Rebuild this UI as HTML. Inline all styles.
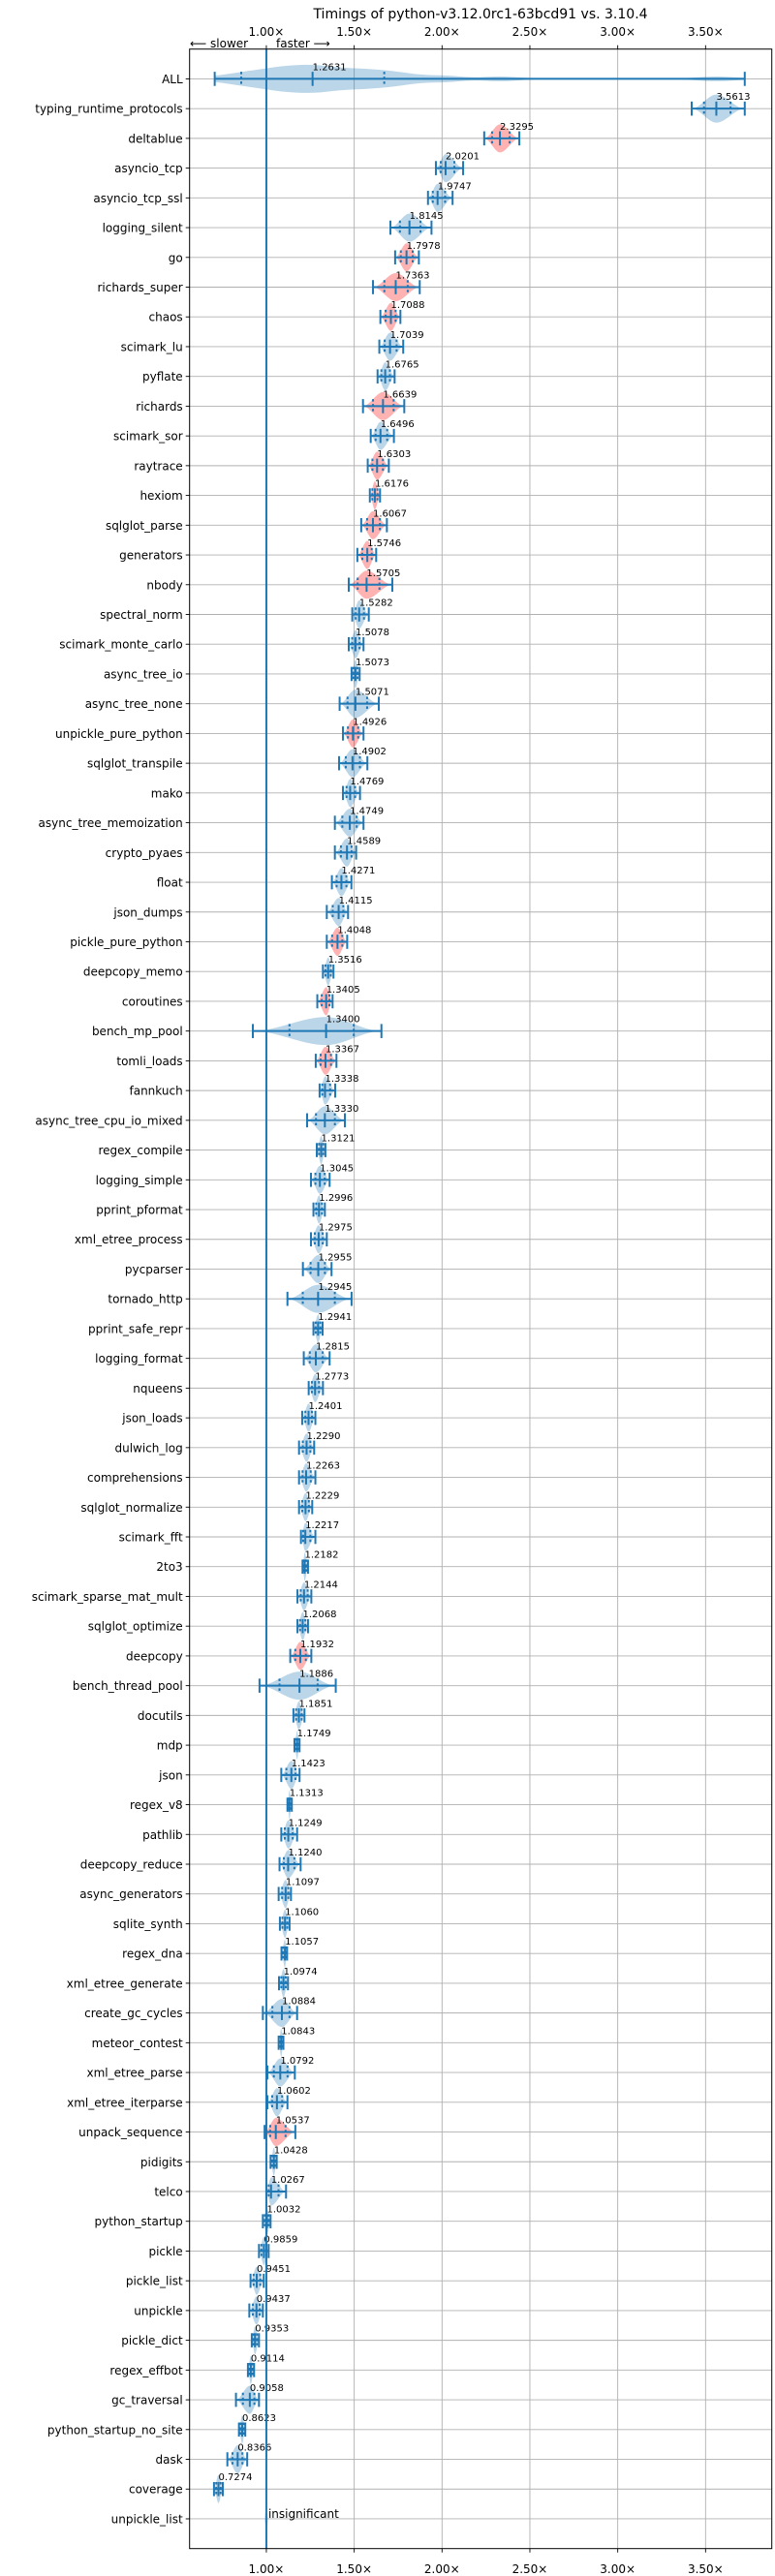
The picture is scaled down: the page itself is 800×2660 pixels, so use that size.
<!DOCTYPE html>
<html><head><meta charset="utf-8"><title>Timings</title>
<style>html,body{margin:0;padding:0;background:#fff}svg{display:block}text{font-family:"DejaVu Sans","Liberation Sans",sans-serif}</style>
</head><body>
<svg id="chart" width="800" height="2660" viewBox="0 0 800 2660" xmlns="http://www.w3.org/2000/svg">
<text x="496" y="19" text-anchor="middle" font-size="14">Timings of python-v3.12.0rc1-63bcd91 vs. 3.10.4</text>
<text x="196" y="49" font-size="12">⟵ slower</text>
<text x="285" y="49" font-size="12">faster ⟶</text>
</svg>
<script>
const names = ["ALL","typing_runtime_protocols","deltablue","asyncio_tcp","asyncio_tcp_ssl","logging_silent","go","richards_super","chaos","scimark_lu","pyflate","richards","scimark_sor","raytrace","hexiom","sqlglot_parse","generators","nbody","spectral_norm","scimark_monte_carlo","async_tree_io","async_tree_none","unpickle_pure_python","sqlglot_transpile","mako","async_tree_memoization","crypto_pyaes","float","json_dumps","pickle_pure_python","deepcopy_memo","coroutines","bench_mp_pool","tomli_loads","fannkuch","async_tree_cpu_io_mixed","regex_compile","logging_simple","pprint_pformat","xml_etree_process","pycparser","tornado_http","pprint_safe_repr","logging_format","nqueens","json_loads","dulwich_log","comprehensions","sqlglot_normalize","scimark_fft","2to3","scimark_sparse_mat_mult","sqlglot_optimize","deepcopy","bench_thread_pool","docutils","mdp","json","regex_v8","pathlib","deepcopy_reduce","async_generators","sqlite_synth","regex_dna","xml_etree_generate","create_gc_cycles","meteor_contest","xml_etree_parse","xml_etree_iterparse","unpack_sequence","pidigits","telco","python_startup","pickle","pickle_list","unpickle","pickle_dict","regex_effbot","gc_traversal","python_startup_no_site","dask","coverage","unpickle_list"];
const medians = [1.2631,3.5613,2.3295,2.0201,1.9747,1.8145,1.7978,1.7363,1.7088,1.7039,1.6765,1.6639,1.6496,1.6303,1.6176,1.6067,1.5746,1.5705,1.5282,1.5078,1.5073,1.5071,1.4926,1.4902,1.4769,1.4749,1.4589,1.4271,1.4115,1.4048,1.3516,1.3405,1.3400,1.3367,1.3338,1.3330,1.3121,1.3045,1.2996,1.2975,1.2955,1.2945,1.2941,1.2815,1.2773,1.2401,1.2290,1.2263,1.2229,1.2217,1.2182,1.2144,1.2068,1.1932,1.1886,1.1851,1.1749,1.1423,1.1313,1.1249,1.1240,1.1097,1.1060,1.1057,1.0974,1.0884,1.0843,1.0792,1.0602,1.0537,1.0428,1.0267,1.0032,0.9859,0.9451,0.9437,0.9353,0.9114,0.9058,0.8623,0.8366,0.7274,1.0];
const mins = [0.706,3.421,2.24,1.965,1.92,1.706,1.733,1.607,1.649,1.643,1.633,1.55,1.594,1.577,1.589,1.54,1.518,1.469,1.489,1.469,1.485,1.417,1.436,1.414,1.436,1.39,1.39,1.373,1.344,1.344,1.322,1.29,0.923,1.281,1.303,1.232,1.287,1.254,1.268,1.254,1.208,1.12,1.268,1.213,1.241,1.204,1.186,1.186,1.186,1.197,1.206,1.177,1.177,1.136,0.961,1.154,1.16,1.085,1.12,1.085,1.075,1.07,1.077,1.086,1.072,0.98,1.07,1.006,1.006,0.99,1.024,1.0,0.98,0.958,0.91,0.903,0.917,0.895,0.827,0.844,0.778,0.702,0.998];
const maxs = [3.723,3.723,2.44,2.12,2.06,1.94,1.868,1.873,1.763,1.779,1.73,1.785,1.726,1.697,1.647,1.686,1.625,1.717,1.583,1.553,1.531,1.64,1.553,1.575,1.533,1.553,1.511,1.484,1.465,1.46,1.382,1.377,1.655,1.399,1.392,1.447,1.336,1.36,1.333,1.344,1.371,1.485,1.32,1.36,1.322,1.279,1.272,1.279,1.261,1.279,1.237,1.256,1.237,1.256,1.395,1.217,1.189,1.189,1.145,1.175,1.195,1.14,1.132,1.118,1.123,1.175,1.097,1.162,1.12,1.165,1.059,1.112,1.024,1.013,0.985,0.98,0.958,0.93,0.958,0.88,0.891,0.752,1.002];
const slowerBenchmarks = ["deltablue","go","richards_super","chaos","richards","raytrace","hexiom","sqlglot_parse","generators","nbody","unpickle_pure_python","pickle_pure_python","coroutines","tomli_loads","deepcopy","unpack_sequence"];
const xTicks = [1.0,1.5,2.0,2.5,3.0,3.5];
const xTickLabels = ["1.00×","1.50×","2.00×","2.50×","3.00×","3.50×"];
const insignificant = ["unpickle_list"];

const NS="http://www.w3.org/2000/svg";
const svg=document.getElementById('chart');
const L=195.7,R=796.7,T=50.7,B=2631.7,XMIN=0.563,XMAX=3.877;
const xs=v=>L+(v-XMIN)/(XMAX-XMIN)*(R-L);
const step=(B-T)/(names.length+1);
const ys=i=>T+(i+1)*step;
const BLUE="#1f77b4";
function mk(tag,attrs,parent){const e=document.createElementNS(NS,tag);for(const k in attrs)e.setAttribute(k,attrs[k]);(parent||svg).appendChild(e);return e;}

const grid=mk('g',{});


xTicks.forEach((t,k)=>{
  const gx=mk('line',{x1:xs(t),x2:xs(t),y1:T,y2:B,stroke:"#b0b0b0","stroke-width":0.9},grid);
  
  
  [[T-4,T,33],[B,B+4,2653]].forEach(([a,b,ty],j)=>{
    mk('line',{x1:xs(t),x2:xs(t),y1:a,y2:b,stroke:"#000","stroke-width":0.9},grid);
    const lb=mk('text',{x:xs(t),y:ty+4,"text-anchor":"middle","font-size":12},grid);
    lb.textContent=xTickLabels[k];
    
    
  });
});
names.forEach((n,i)=>{
  const y=ys(i);
  const gl=mk('line',{x1:L,x2:R,y1:y,y2:y,stroke:"#b0b0b0","stroke-width":0.9},grid);
  
  
  mk('line',{x1:L-4,x2:L,y1:y,y2:y,stroke:"#000","stroke-width":0.9},grid);
  const lb=mk('text',{x:L-7,y:y+4.5,"text-anchor":"end","font-size":12},grid);
  lb.textContent=n;
  
  
});

const marks=mk('g',{});


const H=14.5;
function bumpPath(i,fn,a,b){
  const y=ys(i);let top=[],bot=[];const N=80;
  for(let k=0;k<=N;k++){const v=a+(b-a)*k/N;const h=fn(v);top.push(xs(v).toFixed(2)+","+(y-h).toFixed(2));bot.unshift(xs(v).toFixed(2)+","+(y+h).toFixed(2));}
  return "M"+top.join("L")+"L"+bot.join("L")+"Z";
}
names.forEach((n,i)=>{
  const y=ys(i),med=medians[i],mn=mins[i],mx=maxs[i];
  const g=mk('g',{},marks);
  
  
  if(insignificant.includes(n)){
    const e=mk('ellipse',{cx:xs(med),cy:y,rx:1.5,ry:8,fill:BLUE,"fill-opacity":0.3},g);
    
    
    const t=mk('text',{x:xs(med)+2,y:y-1,"font-size":12},g);
    t.textContent="insignificant";
    
    
    return;
  }
  let fn;
  if(i===0){
    const pts=medians.slice(1,medians.length-1);const bw=0.09;
    const k=v=>pts.reduce((s,p)=>s+Math.exp(-0.5*((v-p)/bw)**2),0);
    let m=0;for(let v=mn;v<=mx;v+=0.01)m=Math.max(m,k(v));
    fn=v=>H*Math.pow(k(v)/m,0.55);
  } else {
    fn=v=>{let f=v<med?(v-mn)/(med-mn):(mx-v)/(mx-med);f=Math.max(0,Math.min(1,f));return H*f*f*(3-2*f);};
  }
  const red=slowerBenchmarks.includes(n);
  const p=mk('path',{d:bumpPath(i,fn,mn,mx),fill:red?"#ff0000":BLUE,"fill-opacity":0.3},g);
  
  
  mk('line',{x1:xs(mn),x2:xs(mx),y1:y,y2:y,stroke:BLUE,"stroke-width":2},g);
  [mn,mx,med].forEach(v=>mk('line',{x1:xs(v),x2:xs(v),y1:y-7.3,y2:y+7.3,stroke:BLUE,"stroke-width":2},g));
  const q1=i===0?0.857:med-(med-mn)*0.5, q3=i===0?1.671:med+(mx-med)*0.5;
  [q1,q3].forEach(v=>mk('line',{x1:xs(v),x2:xs(v),y1:y-7.3,y2:y+7.3,stroke:BLUE,"stroke-width":2,"stroke-dasharray":"2.5,2.5"},g));
  const t=mk('text',{x:xs(med),y:y-9,"font-size":10},g);
  t.textContent=med.toFixed(4);
  
  
});
const ref=mk('line',{x1:xs(1),x2:xs(1),y1:T,y2:B,stroke:BLUE,"stroke-width":2});


const fr=mk('rect',{x:L,y:T,width:R-L,height:B-T,fill:"none",stroke:"#000","stroke-width":1});


</script>
</body></html>
